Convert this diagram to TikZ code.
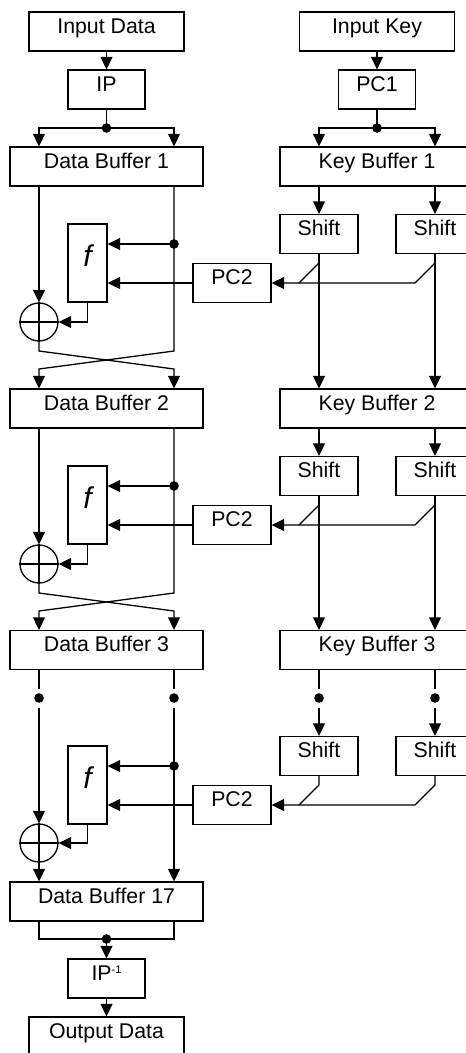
\documentclass[tikz,border=0pt]{standalone}
\usepackage{fontspec}
\setmainfont{Liberation Sans}
\usetikzlibrary{arrows.meta,calc}
\begin{document}
\begin{tikzpicture}[x=1pt,y=-1pt,
  line width=1.3pt,
  >={Triangle[length=12.5pt,width=12pt]},
  blk/.style={draw, line width=1.3pt, minimum height=39pt, inner sep=0pt,
    text height=12pt, text depth=9pt, font=\fontsize{21.3}{24}\selectfont},
  fblk/.style={draw, line width=1.3pt, minimum width=39pt, minimum height=78pt,
    inner sep=0pt, text height=22pt, text depth=16pt,
    font=\itshape\fontsize{30}{30}\selectfont},
  xorc/.style={circle, draw, line width=1.3pt, minimum size=38pt, inner sep=0pt},
  jdot/.style={circle, fill, inner sep=0pt, minimum size=9.6pt},
]
\useasboundingbox (0,0) rectangle (466,1053);
\clip (0,0) rectangle (466,1053);

\coordinate (dl) at (39,0);
\coordinate (dr) at (174,0);
\coordinate (kl) at (319,0);
\coordinate (kr) at (435,0);

% top
\node[blk, minimum width=155pt] (indata) at (106.5,31.5) {Input Data};
\node[blk, minimum width=77pt] (ip) at (106.5,89.5) {IP};
\node[blk, minimum width=155pt] (inkey) at (377,31.5) {Input Key};
\node[blk, minimum width=77pt] (pc1) at (377,89.5) {PC1};

% buffers
\node[blk, minimum width=193pt] (db1) at (106.5,166.5) {Data Buffer 1};
\node[blk, minimum width=194pt] (kb1) at (377,166.5) {Key Buffer 1};
\node[blk, minimum width=193pt] (db2) at (106.5,408.5) {Data Buffer 2};
\node[blk, minimum width=194pt] (kb2) at (377,408.5) {Key Buffer 2};
\node[blk, minimum width=193pt] (db3) at (106.5,650) {Data Buffer 3};
\node[blk, minimum width=194pt] (kb3) at (377,650) {Key Buffer 3};
\node[blk, minimum width=193pt] (db17) at (106.5,901.5) {Data Buffer 17};
\node[blk, minimum width=77pt] (ipinv) at (106.5,978.5) {IP\raisebox{7pt}{\fontsize{11}{11}\selectfont -1}};
\node[blk, minimum width=155pt] (out) at (106.5,1036.5) {Output Data};

% top connectors
\draw[->] (indata) -- (ip);
\node[jdot] (ipdot) at (106.5,128) {};
\draw (ip) -- (ipdot.center);
\draw[->] (ipdot.center) -| (db1.north -| dl);
\draw[->] (ipdot.center) -| (db1.north -| dr);
\draw[->] (inkey) -- (pc1);
\node[jdot] (pcdot) at (377,128) {};
\draw (pc1) -- (pcdot.center);
\draw[->] (pcdot.center) -| (kb1.north -| kl);
\draw[->] (pcdot.center) -| (kb1.north -| kr);

% rounds 1 and 2
\foreach \r/\T/\n in {1/147/2, 2/389/3} {
  \node[blk, minimum width=78pt] (sl\r) at (319,\T+87) {Shift};
  \node[blk, minimum width=78pt] (sr\r) at (435,\T+87) {Shift};
  \node[fblk] (f\r) at (87.5,\T+116) {f};
  \node[blk, minimum width=78pt] (pc2\r) at (232,\T+136) {PC2};
  \node[xorc] (x\r) at (39,\T+175) {};
  \draw (x\r.north) -- (x\r.south) (x\r.west) -- (x\r.east);
  \node[jdot] (d\r) at (174,\T+97) {};
  \coordinate (cl\r) at (39,\T+204);
  \coordinate (cr\r) at (174,\T+204);
  \coordinate (bl\r) at (39,\T+222);
  \coordinate (br\r) at (174,\T+222);
  \draw[->] (db\r.south -| dl) -- (x\r.north);
  \draw[->] (db\r.south -| dr) -- (cr\r) -- (bl\r) -- (db\n.north -| dl);
  \draw[->] (x\r.south) -- (cl\r) -- (br\r) -- (db\n.north -| dr);
  \draw[->] (d\r.center) -- (d\r -| f\r.east);
  \draw[->] (pc2\r.west) -- (pc2\r.west -| f\r.east);
  \draw[->] (f\r.south) |- (x\r.east);
  \draw[->] (kb\r.south -| sl\r) -- (sl\r.north);
  \draw[->] (kb\r.south -| sr\r) -- (sr\r.north);
  \draw[->] (sl\r.south) -- (kb\n.north -| sl\r);
  \draw[->] (sr\r.south) -- (kb\n.north -| sr\r);
  \coordinate (ja\r) at (319,\T+116);
  \coordinate (jb\r) at (299,\T+136);
  \coordinate (jc\r) at (435,\T+116);
  \coordinate (jd\r) at (415,\T+136);
  \draw[->] (ja\r) -- (jb\r) -- (pc2\r.east);
  \draw (jc\r) -- (jd\r) -- (jb\r);
}

% round 3 (after dotted gap)
\node[jdot] (e1) at (39,698) {};
\node[jdot] (e2) at (174,698) {};
\node[jdot] (e3) at (319,698) {};
\node[jdot] (e4) at (435,698) {};
\node[blk, minimum width=78pt] (sl3) at (319,756) {Shift};
\node[blk, minimum width=78pt] (sr3) at (435,756) {Shift};
\node[fblk] (f3) at (87.5,785) {f};
\node[blk, minimum width=78pt] (pc23) at (232,805) {PC2};
\node[xorc] (x3) at (39,843) {};
\draw (x3.north) -- (x3.south) (x3.west) -- (x3.east);
\node[jdot] (d3) at (174,766) {};

\draw (db3.south -| e1) -- ($(e1)+(0,-9.5)$);
\draw (db3.south -| e2) -- ($(e2)+(0,-9.5)$);
\draw (kb3.south -| e3) -- ($(e3)+(0,-9.5)$);
\draw (kb3.south -| e4) -- ($(e4)+(0,-9.5)$);
\draw[->] ($(e1)+(0,9.5)$) -- (x3.north);
\draw[->] ($(e2)+(0,9.5)$) -- (db17.north -| e2);
\draw[->] ($(e3)+(0,9.5)$) -- (sl3.north);
\draw[->] ($(e4)+(0,9.5)$) -- (sr3.north);
\draw[->] (x3.south) -- (db17.north -| dl);
\draw[->] (d3.center) -- (d3 -| f3.east);
\draw[->] (pc23.west) -- (pc23.west -| f3.east);
\draw[->] (f3.south) |- (x3.east);
\coordinate (ja3) at (319,785);
\coordinate (jb3) at (299,805);
\coordinate (jc3) at (435,785);
\coordinate (jd3) at (415,805);
\draw[->] (sl3.south) -- (ja3) -- (jb3) -- (pc23.east);
\draw (sr3.south) -- (jc3) -- (jd3) -- (jb3);

% final
\coordinate (ca) at (39,939);
\coordinate (cb) at (174,939);
\node[jdot] (dot17) at (106.5,939) {};
\draw (db17.south -| ca) -- (ca) -- (cb) -- (db17.south -| cb);
\draw[->] (dot17.center) -- (ipinv.north);
\draw[->] (ipinv) -- (out);
\end{tikzpicture}
\end{document}
